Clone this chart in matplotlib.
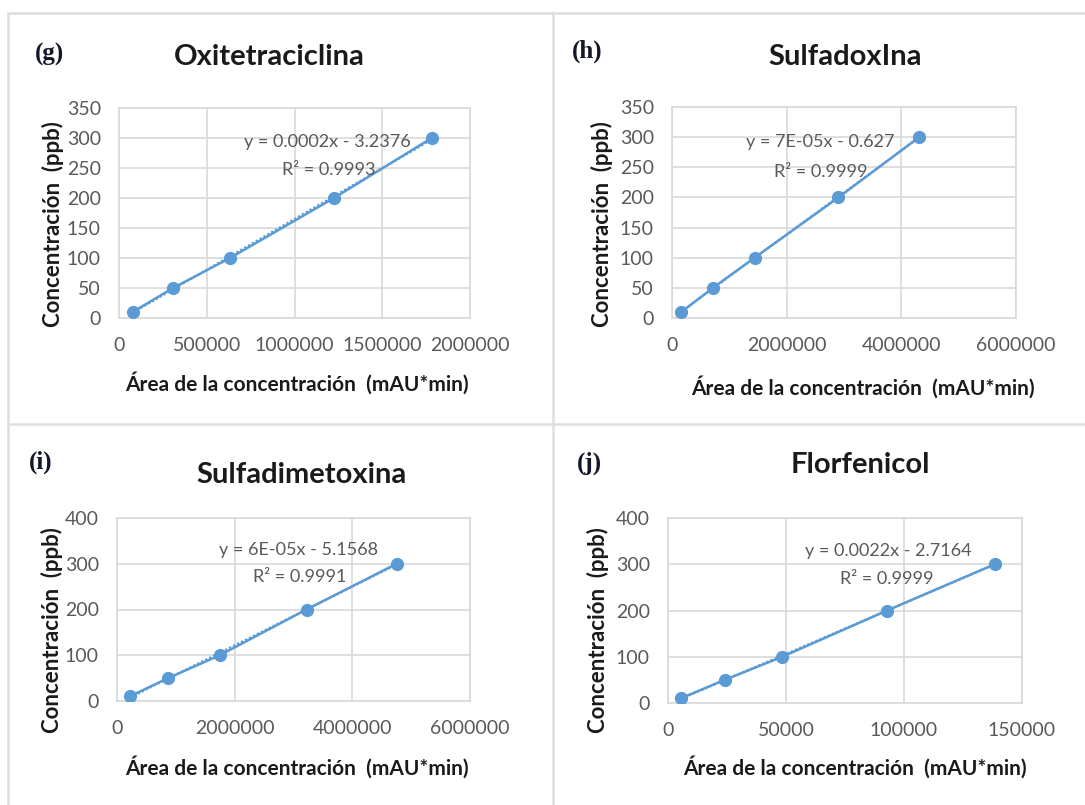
import numpy as np
import matplotlib
matplotlib.use("Agg")
from matplotlib import pyplot as plt
from matplotlib.lines import Line2D

# calibration data: concentration (ppb) vs peak area (mAU*min)
conc = [10, 50, 100, 200, 300]

area_oxitetraciclina = [78000, 307700, 632500, 1225000, 1781800]
area_sulfadoxina = [162600, 714400, 1440000, 2904000, 4310000]
area_sulfadimetoxina = [215500, 867700, 1746700, 3221000, 4752000]
area_florfenicol = [5370, 24000, 48450, 92800, 138400]

titles = ["Oxitetraciclina", "SulfadoxIna", "Sulfadimetoxina", "Florfenicol"]
letters = ["(g)", "(h)", "(i)", "(j)"]
equations = ["y = 0.0002x - 3.2376", "y = 7E-05x - 0.627",
             "y = 6E-05x - 5.1568", "y = 0.0022x - 2.7164"]
r2_labels = ["R\u00b2 = 0.9993", "R\u00b2 = 0.9999", "R\u00b2 = 0.9991", "R\u00b2 = 0.9999"]
x_limits = [2000000, 6000000, 6000000, 150000]
x_steps = [500000, 2000000, 2000000, 50000]
y_limits = [350, 350, 400, 400]
y_steps = [50, 50, 100, 100]

BLUE = "#5B9BD5"
GRID = "#D9D9D9"
TICK = "#595959"
FONT = "Lato"

W, H = 1085, 805


def px_rect(x0, y0, x1, y1):
    """convert a pixel box (top-left origin) to figure fractions"""
    return [x0 / W, 1 - y1 / H, (x1 - x0) / W, (y1 - y0) / H]


def fig_text(fig, x, y, s, **kw):
    fig.text(x / W, 1 - y / H, s, **kw)


fig = plt.figure(figsize=(W / 100, H / 100), dpi=100)
fig.patch.set_facecolor("white")

# table borders around the four panels
for xs, ys in [([8, W], [13, 13]), ([8, 8], [13, H]), ([553, 553], [13, H]), ([8, W], [424, 424])]:
    fig.add_artist(Line2D([x / W for x in xs], [1 - y / H for y in ys],
                          color="#DEDEDE", lw=1.8))

areas = [area_oxitetraciclina, area_sulfadoxina, area_sulfadimetoxina, area_florfenicol]
boxes = [(119, 108, 470, 318), (672, 107, 1016, 318),
         (117, 518, 470, 701), (668, 518, 1022, 703)]
title_pos = [(269, 57), (845, 57), (301, 475), (860, 465)]
letter_pos = [(35, 54), (572, 51), (29, 462), (577, 463)]
xlabel_pos = [(297, 383), (863, 387), (297, 767), (855, 767)]
ylabel_pos = [(53, 224), (602, 224), (52, 630), (598, 630)]
eq_pos = [((0.594, 0.838), (0.598, 0.705)), ((0.431, 0.836), (0.431, 0.693)),
          ((0.515, 0.827), (0.518, 0.680)), ((0.621, 0.819), (0.619, 0.669))]

for i in range(4):
    ax = fig.add_axes(px_rect(*boxes[i]))
    x = np.array(areas[i], dtype=float)
    y = np.array(conc, dtype=float)

    # linear trendline from the points
    slope, intercept = np.polyfit(x, y, 1)
    xt = np.array([x.min(), x.max()])
    ax.plot(x, y, color=BLUE, lw=1.8, marker="o", ms=8.5, zorder=3)
    ax.plot(xt, slope * xt + intercept, color=BLUE, lw=1.6, ls=(0, (1, 1)), zorder=4)

    ax.set_xlim(0, x_limits[i])
    ax.set_ylim(0, y_limits[i])
    ax.set_xticks(np.arange(0, x_limits[i] + 1, x_steps[i]))
    ax.set_yticks(np.arange(0, y_limits[i] + 1, y_steps[i]))
    ax.xaxis.set_major_formatter(matplotlib.ticker.FormatStrFormatter("%d"))
    ax.grid(True, color=GRID, lw=1.2)
    ax.set_axisbelow(True)
    for sp in ax.spines.values():
        sp.set_color(GRID)
        sp.set_linewidth(1.2)
    ax.tick_params(length=0, labelsize=14, colors=TICK)
    ax.tick_params(axis="x", pad=14)
    ax.tick_params(axis="y", pad=13)
    for lab in ax.get_xticklabels() + ax.get_yticklabels():
        lab.set_fontfamily(FONT)

    (ex, ey), (rx, ry) = eq_pos[i]
    ax.text(ex, ey, equations[i], transform=ax.transAxes, ha="center", va="center",
            fontsize=13, color=TICK, family=FONT, zorder=5)
    ax.text(rx, ry, r2_labels[i], transform=ax.transAxes, ha="center", va="center",
            fontsize=13, color=TICK, family=FONT, zorder=5)

    fig_text(fig, *title_pos[i], titles[i], ha="center", va="center",
             fontsize=21, fontweight="bold", family=FONT, color="#1a1a1a")
    fig_text(fig, *letter_pos[i], letters[i], ha="left", va="center",
             fontsize=18, fontweight="bold", family="Liberation Serif", color="#111827")
    fig_text(fig, *xlabel_pos[i], "\u00c1rea de la concentraci\u00f3n  (mAU*min)",
             ha="center", va="center", fontsize=15, fontweight="bold", family=FONT,
             color="#1a1a1a")
    fig_text(fig, *ylabel_pos[i], "Concentraci\u00f3n  (ppb)", ha="center", va="center",
             rotation=90, fontsize=16, fontweight="bold", family=FONT, color="#1a1a1a")

fig.savefig("out.png", dpi=100, facecolor="white")
